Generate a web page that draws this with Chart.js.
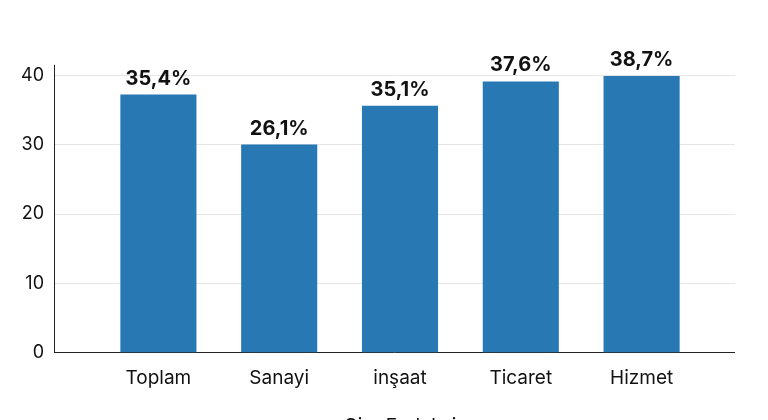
<!DOCTYPE html>
<html>
<head>
<meta charset="utf-8">
<script src="https://cdn.jsdelivr.net/npm/chart.js@4"></script>
<style>
html, body { margin: 0; padding: 0; background: #fff; }
#wrap { width: 768px; height: 420px; }
</style>
</head>
<body>
<div id="wrap"><canvas id="grafico"></canvas></div>
<script>
const categorias = ['Toplam', 'Sanayi', 'inşaat', 'Ticaret', 'Hizmet'];
const valores = [37.2, 30.0, 35.6, 39.1, 39.9];
const etiquetas = ['35,4%', '26,1%', '35,1%', '37,6%', '38,7%'];
const marcasY = [0, 10, 20, 30, 40];

// lineas de la grilla y ejes, mas anchas que el area de barras
const ejesPlugin = {
    id: 'ejes',
    beforeDatasetsDraw(chart) {
        const ctx = chart.ctx;
        const y = chart.scales.y;
        const izq = 54, der = 735;
        ctx.save();
        ctx.lineWidth = 1;
        ctx.strokeStyle = '#e6e6e6';
        marcasY.forEach(v => {
            if (v === 0) return;
            const py = Math.round(y.getPixelForValue(v)) + 0.5;
            ctx.beginPath(); ctx.moveTo(izq, py); ctx.lineTo(der, py); ctx.stroke();
        });
        ctx.strokeStyle = '#222';
        const base = Math.round(y.getPixelForValue(0)) + 0.5;
        ctx.beginPath(); ctx.moveTo(izq, base); ctx.lineTo(der, base); ctx.stroke();
        ctx.beginPath(); ctx.moveTo(izq + 0.5, y.getPixelForValue(41.5)); ctx.lineTo(izq + 0.5, base); ctx.stroke();
        ctx.restore();
    }
};

const etiquetaPlugin = {
    id: 'etiquetas',
    afterDatasetsDraw(chart) {
        const ctx = chart.ctx;
        const meta = chart.getDatasetMeta(0);
        ctx.save();
        ctx.font = 'bold 20px Inter, "DejaVu Sans", sans-serif';
        ctx.fillStyle = '#111';
        ctx.textAlign = 'center';
        ctx.textBaseline = 'bottom';
        meta.data.forEach((bar, i) => {
            ctx.fillText(etiquetas[i], bar.x, bar.y - 6);
        });
        ctx.restore();
    }
};

new Chart(document.getElementById('grafico'), {
    type: 'bar',
    data: {
        labels: categorias,
        datasets: [{
            data: valores,
            backgroundColor: '#2878b4',
            barPercentage: 0.7,
            categoryPercentage: 0.9
        }]
    },
    options: {
        responsive: true,
        maintainAspectRatio: false,
        animation: false,
        layout: { padding: { top: 28, right: 66, left: 14, bottom: -22 } },
        plugins: { legend: { display: false }, tooltip: { enabled: false } },
        scales: {
            x: {
                grid: { display: false },
                border: { display: false },
                ticks: { color: '#111', font: { family: 'Inter', size: 19 }, padding: 6 },
                title: { display: true, text: 'Ciro Endeksi', color: '#111', font: { family: 'Inter', size: 19 }, padding: { top: 20 } }
            },
            y: {
                min: 0,
                max: 41.5,
                afterFit(axis) { axis.width = 84; },
                afterBuildTicks(axis) { axis.ticks = marcasY.map(v => ({ value: v })); },
                ticks: { color: '#111', font: { family: 'Inter', size: 18 }, padding: 54, autoSkip: false },
                grid: { display: false, drawTicks: false },
                border: { display: false }
            }
        }
    },
    plugins: [ejesPlugin, etiquetaPlugin]
});
</script>
</body>
</html>
